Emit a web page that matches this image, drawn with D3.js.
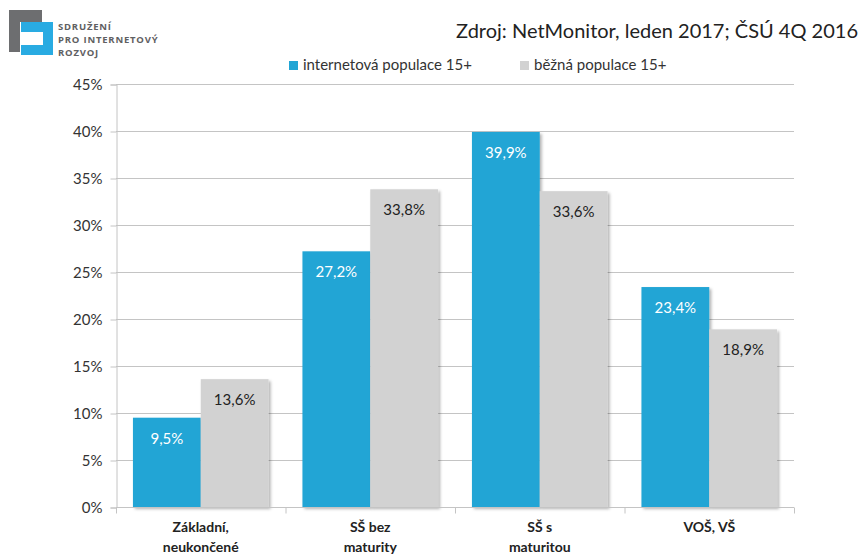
<!DOCTYPE html>
<html lang="cs">
<head>
<meta charset="utf-8" />
<title>Vzdělání internetové populace</title>
<script src="https://cdn.jsdelivr.net/npm/d3@7"></script>
<style>
  body { margin: 0; background: #fff; }
  svg { display: block; font-family: Lato, "Open Sans", sans-serif; }
</style>
</head>
<body>
<script>
  const categories = [["Základní,", "neukončené"], ["SŠ bez", "maturity"], ["SŠ s", "maturitou"], ["VOŠ, VŠ"]];
  const series = ["internetová populace 15+", "běžná populace 15+"];
  const internet = [9.5, 27.2, 39.9, 23.4];
  const bezna = [13.6, 33.8, 33.6, 18.9];
  const yTicks = [0, 5, 10, 15, 20, 25, 30, 35, 40, 45];
  const colors = ["#21a5d5", "#d2d2d2"];

  const W = 862, H = 557;
  const margin = {left: 116, right: 68, top: 84, bottom: 50};

  const svg = d3.select("body").append("svg")
      .attr("width", W)
      .attr("height", H);

  // drop shadow like the office chart
  const defs = svg.append("defs");
  const f = defs.append("filter").attr("id", "shadow")
      .attr("x", "-10%").attr("y", "-10%").attr("width", "130%").attr("height", "130%");
  f.append("feDropShadow")
      .attr("dx", 2).attr("dy", 2).attr("stdDeviation", 1.5)
      .attr("flood-color", "#000").attr("flood-opacity", 0.3);

  const x = d3.scaleBand(d3.range(categories.length), [margin.left, W - margin.right])
      .paddingInner(0.2)
      .paddingOuter(0.1);
  const x1 = d3.scaleBand([0, 1], [0, x.bandwidth()]);
  const y = d3.scaleLinear([0, 45], [H - margin.bottom, margin.top]);

  // gridlines
  svg.append("g")
      .selectAll("line")
      .data(yTicks)
      .join("line")
      .attr("x1", margin.left)
      .attr("x2", W - margin.right)
      .attr("y1", d => y(d) + 0.5)
      .attr("y2", d => y(d) + 0.5)
      .attr("stroke", "#c4c4c4");

  // y axis
  let yAxisG = svg.append("g")
      .attr("transform", `translate(${margin.left + 0.5}, 0.5)`)
      .call(d3.axisLeft(y).tickValues(yTicks).tickSize(6).tickPadding(8).tickFormat(d => d + "%"));
  yAxisG.select(".domain").attr("stroke", "#c4c4c4");
  yAxisG.selectAll(".tick line").attr("stroke", "#c4c4c4");
  yAxisG.selectAll("text")
      .attr("font-size", 15)
      .attr("fill", "#333")
      .attr("font-family", "Lato, sans-serif");

  // bars
  const groups = svg.append("g")
      .selectAll("g")
      .data(d3.range(categories.length))
      .join("g")
      .attr("transform", i => `translate(${x(i)}, 0)`);

  const vals = i => [internet[i], bezna[i]];

  groups.selectAll("rect")
      .data(i => vals(i).map((v, s) => ({v, s})))
      .join("rect")
      .attr("x", d => x1(d.s))
      .attr("y", d => y(d.v))
      .attr("width", x1.bandwidth())
      .attr("height", d => y(0) - y(d.v))
      .attr("fill", d => colors[d.s])
      .attr("filter", "url(#shadow)");

  groups.selectAll("text.val")
      .data(i => vals(i).map((v, s) => ({v, s})))
      .join("text")
      .attr("class", "val")
      .attr("x", d => x1(d.s) + x1.bandwidth() / 2)
      .attr("y", d => y(d.v) + 26)
      .attr("text-anchor", "middle")
      .attr("font-size", 15)
      .attr("fill", d => d.s == 0 ? "#fff" : "#222")
      .text(d => d.v.toFixed(1).replace(".", ",") + "%");

  // x axis
  let xAxisG = svg.append("g")
      .attr("transform", `translate(0, ${y(0) + 0.5})`);
  xAxisG.append("line")
      .attr("x1", margin.left)
      .attr("x2", W - margin.right)
      .attr("stroke", "#c4c4c4");
  const step = x.step();
  xAxisG.selectAll("line.tick")
      .data(d3.range(categories.length + 1))
      .join("line")
      .attr("class", "tick")
      .attr("x1", i => margin.left + i * step + 0.5)
      .attr("x2", i => margin.left + i * step + 0.5)
      .attr("y1", 0)
      .attr("y2", 6)
      .attr("stroke", "#c4c4c4");
  xAxisG.selectAll("text")
      .data(d3.range(categories.length))
      .join("text")
      .attr("x", i => x(i) + x.bandwidth() / 2)
      .attr("y", 24)
      .attr("text-anchor", "middle")
      .attr("font-size", 14)
      .attr("font-weight", "bold")
      .attr("fill", "#222")
      .selectAll("tspan")
      .data(i => categories[i])
      .join("tspan")
      .attr("x", function() { return this.parentNode.getAttribute("x"); })
      .attr("dy", (d, j) => j == 0 ? 0 : 20)
      .text(d => d);

  // legend
  const legend = svg.append("g").attr("transform", "translate(0, 70)");
  const legendX = [289, 520];
  series.forEach((s, i) => {
    legend.append("rect")
        .attr("x", legendX[i])
        .attr("y", -9)
        .attr("width", 9)
        .attr("height", 9)
        .attr("fill", colors[i]);
    legend.append("text")
        .attr("x", legendX[i] + 14)
        .attr("y", 0)
        .attr("font-size", 15)
        .attr("fill", "#333")
        .text(s);
  });

  // title
  svg.append("text")
      .attr("x", 858)
      .attr("y", 38)
      .attr("text-anchor", "end")
      .attr("font-size", 20)
      .attr("fill", "#222")
      .text("Zdroj: NetMonitor, leden 2017; ČSÚ 4Q 2016");

  // logo
  const logo = svg.append("g");
  logo.append("path")
      .attr("d", "M9,10 H42 V22 H20 V52 H9 Z")
      .attr("fill", "#6d6e70");
  logo.append("path")
      .attr("d", "M21,22 H53 V55 H21 V45 H43 V32 H21 Z")
      .attr("fill", "#29abe2");
  const logoText = ["SDRUŽENÍ", "PRO INTERNETOVÝ", "ROZVOJ"];
  logo.selectAll("text.logo")
      .data(logoText)
      .join("text")
      .attr("class", "logo")
      .attr("x", 58)
      .attr("y", (d, i) => 30 + i * 13)
      .attr("font-size", 9.5)
      .attr("font-weight", "bold")
      .attr("letter-spacing", 0.8)
      .attr("font-family", "'Open Sans', sans-serif")
      .attr("fill", "#5f6062")
      .text(d => d);
</script>
</body>
</html>
